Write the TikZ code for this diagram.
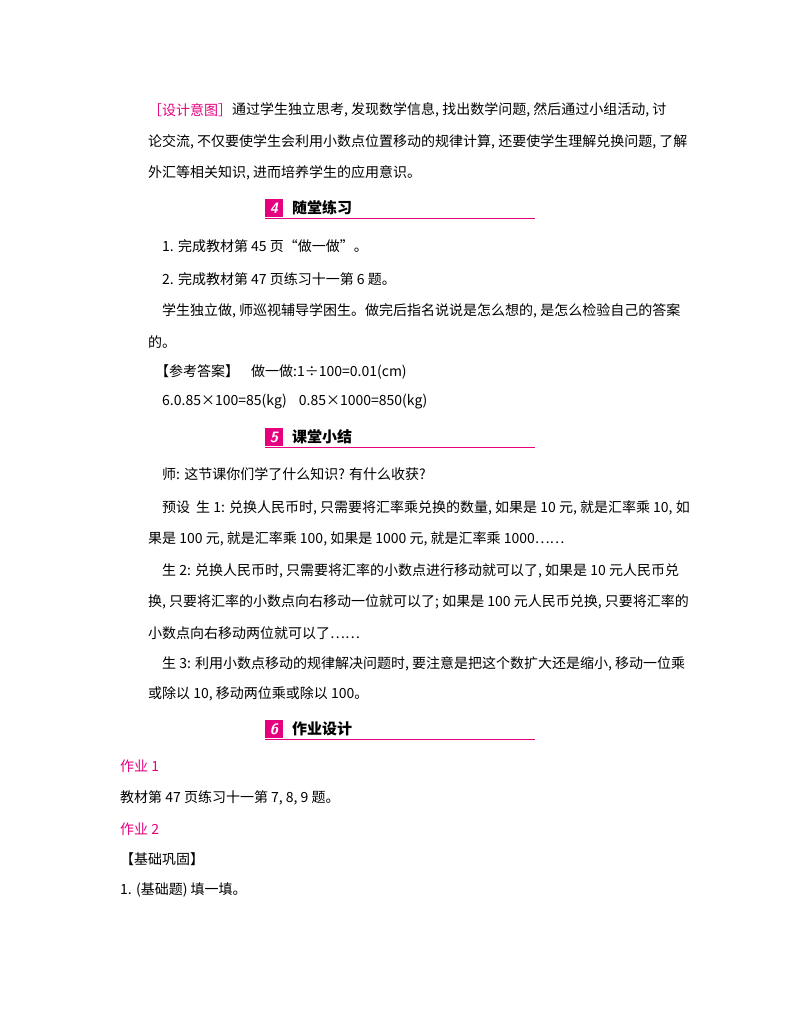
\documentclass[tikz,border=0pt]{standalone}
\usepackage{fontspec}
\setmainfont{Noto Sans CJK SC}
\newfontfamily\cjkb{Noto Sans CJK SC}[BoldFont={Noto Sans CJK SC Bold}]
\definecolor{pk}{RGB}{228,0,127}
\begin{document}
\begin{tikzpicture}[x=1pt,y=-1pt,
  tl/.style={anchor=west,inner sep=0pt,font=\fontsize{14}{14}\selectfont},
  pkt/.style={tl,text=pk},
  hbox/.style={fill=pk,minimum width=18,minimum height=18,inner sep=0pt,text=white,font=\fontsize{15}{15}\selectfont\bfseries\itshape\sffamily},
  htext/.style={anchor=west,inner sep=0pt,font=\fontsize{15}{15}\selectfont\bfseries}]
\useasboundingbox (0,0) rectangle (800,1028);
\node[pkt] (d0) at (148,110) {［设计意图］};
\node[tl] (d1) at (232,110) {通过学生独立思考, 发现数学信息, 找出数学问题, 然后通过小组活动, 讨};
\node[tl] (d2) at (148,142) {论交流, 不仅要使学生会利用小数点位置移动的规律计算, 还要使学生理解兑换问题, 了解};
\node[tl] (d3) at (148,173) {外汇等相关知识, 进而培养学生的应用意识。};
% header 4
\node[hbox] (h4) at (274,208) {4};
\node[htext] (h4t) at (292,208) {随堂练习};
\coordinate (l4a) at (265,218); \coordinate (l4b) at (535,218);
\draw[pk,line width=0.8pt] (l4a) -- (l4b);
\node[tl] (a1) at (162,246) {1. 完成教材第 45 页“做一做”。};
\node[tl] (a2) at (162,279) {2. 完成教材第 47 页练习十一第 6 题。};
\node[tl] (a3) at (162,311) {学生独立做, 师巡视辅导学困生。做完后指名说说是怎么想的, 是怎么检验自己的答案};
\node[tl] (a4) at (148,342) {的。};
\node[tl] (a5) at (155,372) {【参考答案】\hspace{12pt}做一做:1÷100=0.01(cm)};
\node[tl] (a6) at (162,402) {6.0.85×100=85(kg)\hspace{12pt}0.85×1000=850(kg)};
% header 5
\node[hbox] (h5) at (274,437) {5};
\node[htext] (h5t) at (292,437) {课堂小结};
\coordinate (l5a) at (265,447); \coordinate (l5b) at (535,447);
\draw[pk,line width=0.8pt] (l5a) -- (l5b);
\node[tl] (b1) at (162,474) {师: 这节课你们学了什么知识? 有什么收获?};
\node[tl] (b2) at (162,508) {预设\hspace{6pt}生 1: 兑换人民币时, 只需要将汇率乘兑换的数量, 如果是 10 元, 就是汇率乘 10, 如};
\node[tl] (b3) at (148,539) {果是 100 元, 就是汇率乘 100, 如果是 1000 元, 就是汇率乘 1000……};
\node[tl] (b4) at (162,571) {生 2: 兑换人民币时, 只需要将汇率的小数点进行移动就可以了, 如果是 10 元人民币兑};
\node[tl] (b5) at (148,602) {换, 只要将汇率的小数点向右移动一位就可以了; 如果是 100 元人民币兑换, 只要将汇率的};
\node[tl] (b6) at (148,633) {小数点向右移动两位就可以了……};
\node[tl] (b7) at (162,664) {生 3: 利用小数点移动的规律解决问题时, 要注意是把这个数扩大还是缩小, 移动一位乘};
\node[tl] (b8) at (148,694) {或除以 10, 移动两位乘或除以 100。};
% header 6
\node[hbox] (h6) at (274,729) {6};
\node[htext] (h6t) at (292,729) {作业设计};
\coordinate (l6a) at (265,739); \coordinate (l6b) at (535,739);
\draw[pk,line width=0.8pt] (l6a) -- (l6b);
\node[pkt] (c1) at (120,766) {作业 1};
\node[tl] (c2) at (120,798) {教材第 47 页练习十一第 7, 8, 9 题。};
\node[pkt] (c3) at (120,829) {作业 2};
\node[tl] (c4) at (120,859) {【基础巩固】};
\node[tl] (c5) at (120,890) {1. (基础题) 填一填。};
\end{tikzpicture}
\end{document}
